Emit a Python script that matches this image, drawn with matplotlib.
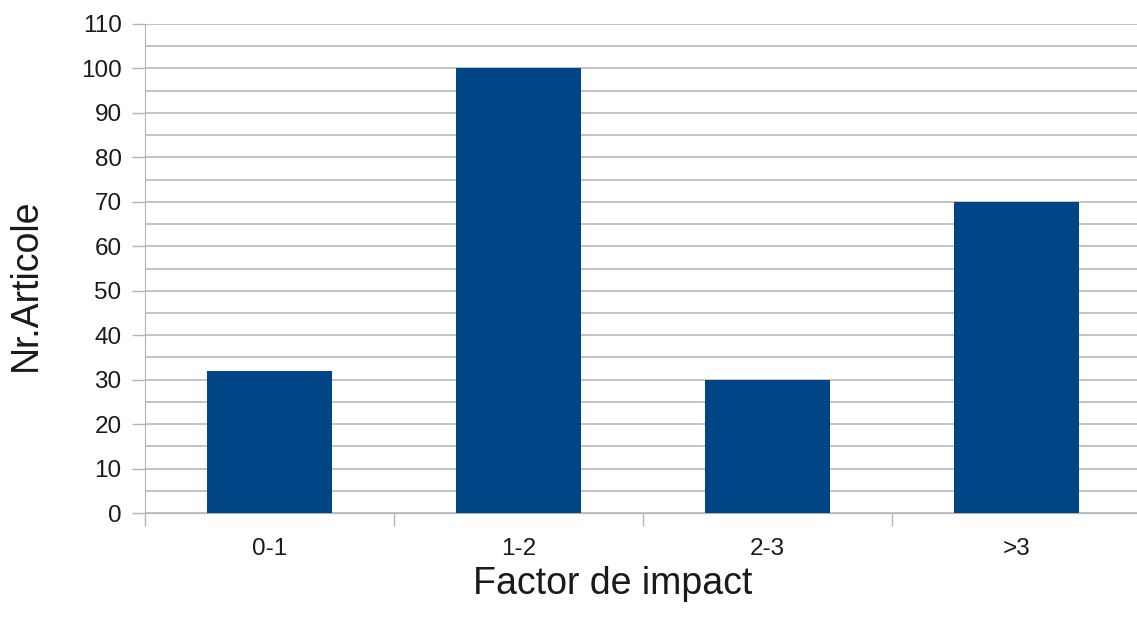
import matplotlib
matplotlib.use("Agg")
import matplotlib.pyplot as plt
from matplotlib.ticker import MultipleLocator, FixedLocator, NullFormatter

categories = ["0-1", "1-2", "2-3", ">3"]
values = [32, 100, 30, 70]
y_ticks = [0, 10, 20, 30, 40, 50, 60, 70, 80, 90, 100, 110]

plt.rcParams['font.family'] = ['Liberation Sans', 'DejaVu Sans']

W, H = 1137, 630
fig = plt.figure(figsize=(W / 100, H / 100), dpi=100)
left, right, top, bottom = 145, 1141, 24, 513
ax = fig.add_axes([left / W, 1 - bottom / H, (right - left) / W, (bottom - top) / H])

grid_c = "#b3b3b3"
text_c = "#1a1a1a"
x = list(range(len(categories)))
ax.bar(x, values, width=0.5, color="#004586", zorder=3)

ax.set_xlim(-0.5, len(categories) - 0.5)
ax.set_ylim(0, 110)
ax.set_yticks(y_ticks)
ax.yaxis.set_minor_locator(MultipleLocator(5))
ax.grid(axis="y", which="both", color=grid_c, linewidth=1.1, zorder=0)

# x ticks at category boundaries, labels at centers
ax.xaxis.set_major_locator(FixedLocator([i - 0.5 for i in range(len(categories) + 1)]))
ax.xaxis.set_major_formatter(NullFormatter())
ax.xaxis.set_minor_locator(FixedLocator(x))
ax.set_xticklabels(categories, minor=True)
ax.tick_params(axis="x", which="major", length=9.4, color=grid_c, width=1)
ax.tick_params(axis="x", which="minor", length=0, pad=18, labelsize=17.5, labelcolor=text_c)
ax.tick_params(axis="y", which="major", length=9.4, color=grid_c, width=1, pad=7.5,
               labelsize=17.5, labelcolor=text_c)
ax.tick_params(axis="y", which="minor", length=0)

for s in ["top", "right"]:
    ax.spines[s].set_visible(False)
ax.spines["left"].set_color(grid_c)
ax.spines["bottom"].set_color(grid_c)
ax.spines["left"].set_bounds(0, 110)

fig.text(613 / W, 1 - 584 / H, "Factor de impact", ha="center", va="center",
         fontsize=27, color=text_c)
fig.text(26 / W, 1 - 285 / H, "Nr.Articole", ha="center", va="center",
         rotation=90, fontsize=27, color=text_c)

fig.savefig("out.png", dpi=100, facecolor="white")
